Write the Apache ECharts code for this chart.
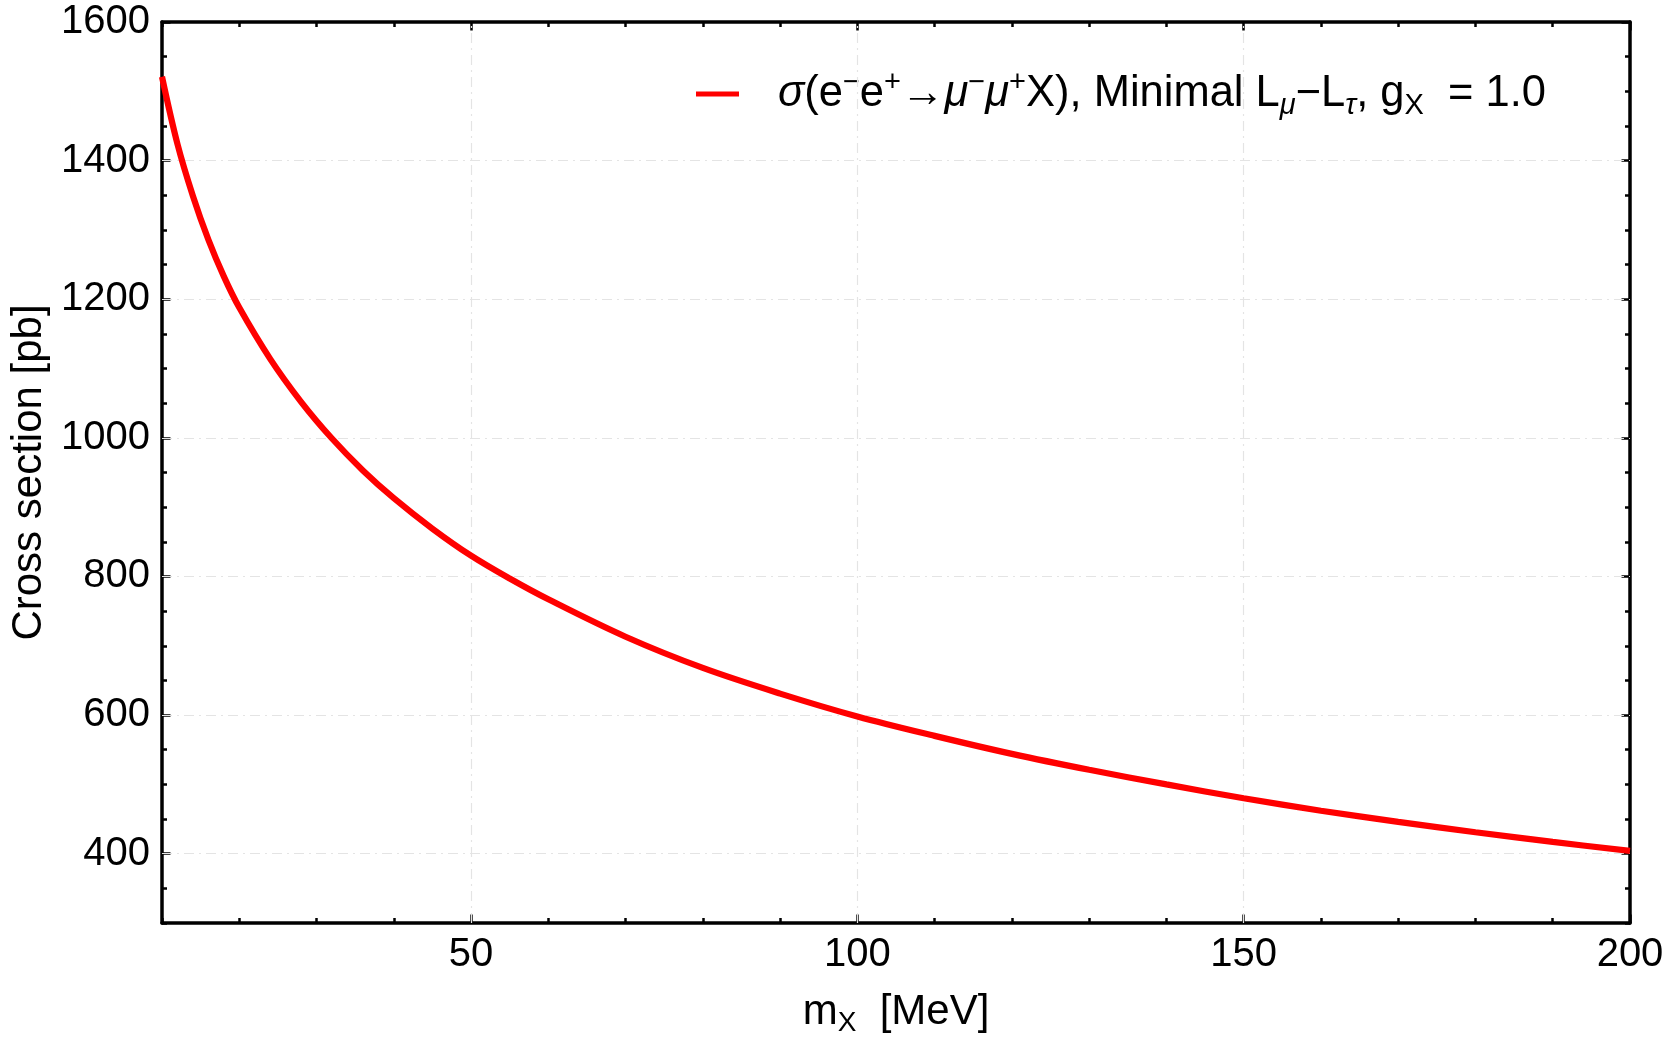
<!DOCTYPE html>
<html>
<head>
<meta charset="utf-8">
<script src="https://cdn.jsdelivr.net/npm/echarts@6/dist/echarts.min.js"></script>
<style>
  html, body { margin: 0; padding: 0; background: #fff; }
  #main { width: 1667px; height: 1042px; }
</style>
</head>
<body>
<div id="main"></div>
<script>
// m_X in MeV, cross section in pb
const massX = [10, 12, 14, 16, 18, 20, 24, 28, 32, 36, 40, 45, 50, 55, 60, 70, 80, 90, 100, 110, 120, 130, 140, 150, 160, 170, 180, 190, 200];
const crossSection = [1521, 1424, 1349, 1286, 1233, 1188, 1114, 1052, 999, 953, 913, 869, 830, 797, 767, 713, 668, 631, 598, 570, 544, 521, 500, 480, 462, 446, 431, 417, 404];

const xMajor = [50, 100, 150, 200];
const yMajor = [400, 600, 800, 1000, 1200, 1400, 1600];
const xGrid = [50, 100, 150];
const yGrid = [400, 600, 800, 1000, 1200, 1400];

const FONT = 'Liberation Sans, Arial, Helvetica, sans-serif';
const black = '#000';

const chart = echarts.init(document.getElementById('main'));

function xAxisDef(pos, major, withLabels) {
  const ax = {
    type: 'value', position: pos, min: 10, max: 200,
    axisLine: { show: !major, onZero: false, lineStyle: { color: black, width: 3.5 } },
    splitLine: { show: false },
    axisTick: { show: true, inside: true, length: major ? 8.5 : 5, lineStyle: { color: black, width: 2.5 } },
    axisLabel: { show: false }
  };
  if (major) ax.axisTick.customValues = xMajor;
  else ax.interval = 10;
  if (withLabels) {
    ax.axisLabel = {
      show: true, color: black, fontFamily: FONT, fontSize: 40, margin: 12,
      formatter: v => (v % 50 === 0 ? String(v) : '')
    };
    ax.name = '{t|m}{sub|X}{t|  [MeV]}';
    ax.nameLocation = 'middle';
    ax.nameGap = 64;
    ax.nameTextStyle = {
      rich: {
        t: { fontFamily: FONT, fontSize: 42, color: black, lineHeight: 50 },
        sub: { fontFamily: FONT, fontSize: 28, color: black, lineHeight: 30, verticalAlign: 'bottom' }
      }
    };
  }
  return ax;
}

function yAxisDef(pos, major, withLabels) {
  const ax = {
    type: 'value', position: pos, min: 300, max: 1600,
    axisLine: { show: !major, onZero: false, lineStyle: { color: black, width: 3.5 } },
    splitLine: { show: false },
    axisTick: { show: true, inside: true, length: major ? 8.5 : 5, lineStyle: { color: black, width: 2.5 } },
    axisLabel: { show: false }
  };
  if (major) ax.axisTick.customValues = yMajor;
  else ax.interval = 50;
  if (withLabels) {
    ax.axisLabel = {
      show: true, color: black, fontFamily: FONT, fontSize: 40, margin: 12,
      formatter: v => (v % 200 === 0 && v >= 400 ? String(v) : '')
    };
    ax.name = 'Cross section [pb]';
    ax.nameLocation = 'middle';
    ax.nameGap = 112;
    ax.nameTextStyle = { fontFamily: FONT, fontSize: 42, color: black };
  }
  return ax;
}

const legendText = '{gap|}{i|σ}{t|(e}{sup|−}{t|e}{sup|+}{t|→}{i|μ}{sup|−}{i|μ}{sup|+}{t|X), Minimal L}{subi|μ}{t|−L}{subi|τ}{t|, g}{sub|X}{t|  = 1.0}';

const option = {
  backgroundColor: '#fff',
  animation: false,
  grid: { left: 157, right: 37, top: 22, bottom: 110 },
  legend: {
    data: ['sigma'],
    left: 696, top: 68, padding: 0,
    icon: 'rect', itemWidth: 43, itemHeight: 5,
    formatter: () => legendText,
    textStyle: {
      rich: {
        gap: { width: 34 },
        t: { fontFamily: FONT, fontSize: 43.5, color: black, lineHeight: 52 },
        i: { fontFamily: FONT, fontSize: 43.5, color: black, lineHeight: 52, fontStyle: 'italic' },
        sup: { fontFamily: FONT, fontSize: 29, color: black, lineHeight: 30, verticalAlign: 'top' },
        sub: { fontFamily: FONT, fontSize: 29, color: black, lineHeight: 30, verticalAlign: 'bottom' },
        subi: { fontFamily: FONT, fontSize: 29, color: black, lineHeight: 30, verticalAlign: 'bottom', fontStyle: 'italic' }
      }
    }
  },
  xAxis: [
    xAxisDef('bottom', false, true),
    xAxisDef('bottom', true, false),
    xAxisDef('top', false, false),
    xAxisDef('top', true, false)
  ],
  yAxis: [
    yAxisDef('left', false, true),
    yAxisDef('left', true, false),
    yAxisDef('right', false, false),
    yAxisDef('right', true, false)
  ],
  series: [
    {
      name: 'grid', type: 'line', data: [], z: 1, silent: true,
      markLine: {
        silent: true, symbol: 'none', animation: false,
        label: { show: false },
        lineStyle: { color: '#e4e4e4', width: 1.2, type: [10, 5, 2, 5] },
        data: xGrid.map(v => ({ xAxis: v })).concat(yGrid.map(v => ({ yAxis: v })))
      }
    },
    {
      name: 'sigma', type: 'line', z: 5,
      data: massX.map((x, i) => [x, crossSection[i]]),
      showSymbol: false, smooth: 0.35,
      itemStyle: { color: '#ff0000' },
      lineStyle: { color: '#ff0000', width: 6.2 }
    }
  ]
};

chart.setOption(option);
</script>
</body>
</html>
